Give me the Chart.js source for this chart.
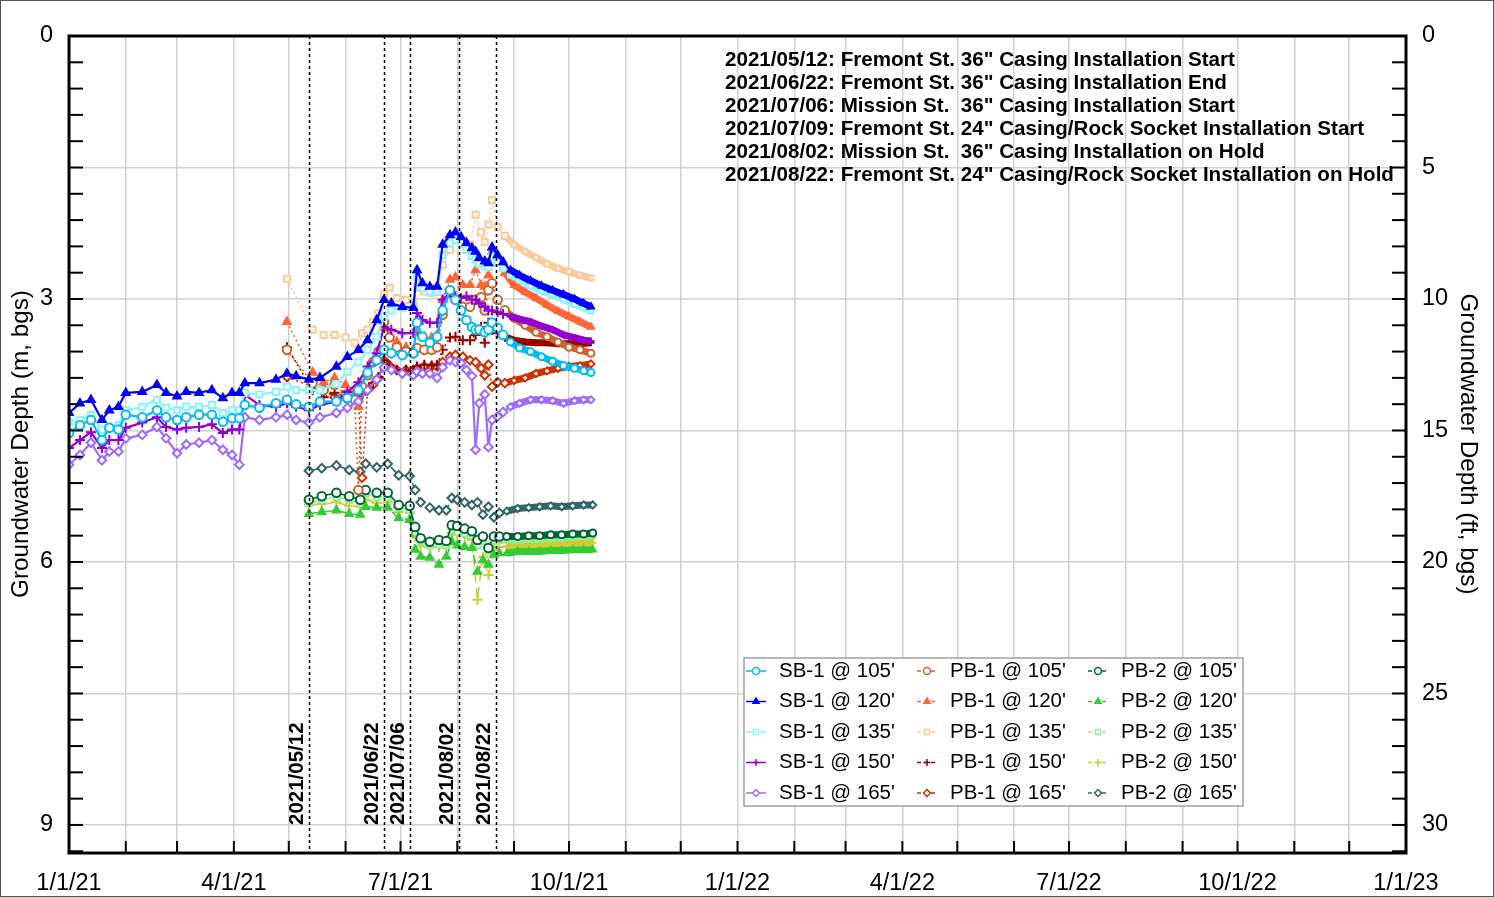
<!DOCTYPE html>
<html>
<head>
<meta charset="utf-8">
<script src="https://cdn.jsdelivr.net/npm/chart.js@4.4.1/dist/chart.umd.min.js"></script>
<style>
  html, body { margin: 0; padding: 0; background: #fff; }
  #wrap { width: 1494px; height: 897px; }
</style>
</head>
<body>
<div id="wrap"><canvas id="gw" width="1494" height="897"></canvas></div>
<script>
// sample dates for each well group
const sbDates = ['2021-01-01','2021-01-07','2021-01-13','2021-01-19','2021-01-23','2021-01-28','2021-02-01','2021-02-10','2021-02-18','2021-02-23',
  '2021-03-01','2021-03-06','2021-03-13','2021-03-20','2021-03-26','2021-03-31','2021-04-04','2021-04-07','2021-04-15','2021-04-24',
  '2021-04-30','2021-05-05','2021-05-12','2021-05-18','2021-05-27','2021-06-02','2021-06-08','2021-06-13','2021-06-18','2021-06-22',
  '2021-06-26','2021-07-02','2021-07-08','2021-07-10','2021-07-13','2021-07-17','2021-07-21','2021-07-24','2021-07-28','2021-07-31',
  '2021-08-03','2021-08-06','2021-08-09','2021-08-11','2021-08-13','2021-08-16','2021-08-18','2021-08-20','2021-08-23','2021-08-26',
  '2021-08-30','2021-09-04','2021-09-10','2021-09-16','2021-09-22','2021-09-28','2021-10-04','2021-10-09','2021-10-13'];
const pb1Dates = ['2021-04-30','2021-05-14','2021-05-20','2021-05-26','2021-06-01','2021-06-06','2021-06-08','2021-06-10','2021-06-13','2021-06-16',
  '2021-06-19','2021-06-22','2021-06-25','2021-06-29','2021-07-04','2021-07-08','2021-07-10','2021-07-14','2021-07-18','2021-07-21',
  '2021-07-24','2021-07-28','2021-07-31','2021-08-04','2021-08-08','2021-08-11','2021-08-14','2021-08-16','2021-08-18','2021-08-20',
  '2021-08-23','2021-08-27','2021-09-01','2021-09-07','2021-09-13','2021-09-19','2021-09-25','2021-10-01','2021-10-07','2021-10-13'];
const pb2Dates = ['2021-05-12','2021-05-19','2021-05-27','2021-06-03','2021-06-09','2021-06-12','2021-06-18','2021-06-24','2021-06-30','2021-07-06',
  '2021-07-09','2021-07-12','2021-07-17','2021-07-22','2021-07-26','2021-07-29','2021-08-01','2021-08-05','2021-08-09','2021-08-12',
  '2021-08-15','2021-08-18','2021-08-21','2021-08-24','2021-08-28','2021-09-03','2021-09-09','2021-09-15','2021-09-21','2021-09-27',
  '2021-10-03','2021-10-09','2021-10-14'];

// groundwater depth, m bgs
const sb105 = [4.53,4.44,4.38,4.61,4.47,4.49,4.32,4.35,4.27,4.35, 4.38,4.35,4.32,4.32,4.40,4.36,4.36,4.21,4.24,4.19,
  4.15,4.20,4.23,4.17,4.17,4.13,4.04,3.84,3.70,3.58, 3.62,3.64,3.62,3.27,3.43,3.50,3.43,3.13,2.90,3.01,
  3.13,3.24,3.32,3.35,3.35,3.38,3.35,3.27,3.33,3.41, 3.49,3.56,3.60,3.66,3.71,3.76,3.79,3.82,3.84];
const sb120 = [4.30,4.19,4.15,4.38,4.27,4.23,4.07,4.06,3.98,4.07, 4.11,4.06,4.07,4.04,4.13,4.07,4.07,3.96,3.96,3.92,
  3.85,3.88,3.92,3.90,3.77,3.66,3.58,3.47,3.24,3.01, 3.05,3.09,3.10,2.67,2.82,2.86,2.86,2.38,2.27,2.24,
  2.29,2.36,2.42,2.46,2.53,2.57,2.59,2.41,2.50,2.58, 2.67,2.73,2.79,2.85,2.90,2.95,3.00,3.05,3.09];
const sb135 = [4.40,4.38,4.32,4.49,4.47,4.44,4.27,4.23,4.15,4.24, 4.27,4.23,4.23,4.21,4.30,4.27,4.27,4.07,4.09,4.06,
  4.00,4.04,4.04,4.04,3.97,3.83,3.72,3.58,3.43,3.20, 3.13,3.10,3.08,2.75,2.87,2.92,2.92,2.50,2.36,2.33,
  2.36,2.44,2.51,2.55,2.60,2.63,2.64,2.52,2.58,2.65, 2.73,2.78,2.85,2.91,2.95,3.01,3.06,3.10,3.14];
const sb150 = [4.70,4.61,4.52,4.70,4.61,4.61,4.47,4.41,4.35,4.46, 4.49,4.47,4.46,4.43,4.53,4.49,4.49,4.09,4.21,4.23,
  4.19,4.23,4.27,4.21,4.17,4.06,3.95,3.77,3.62,3.32, 3.35,3.39,3.39,3.16,3.24,3.27,3.27,3.01,2.93,2.97,
  2.99,2.97,3.01,3.01,3.05,3.09,3.13,3.13,3.15,3.17, 3.20,3.23,3.26,3.31,3.35,3.41,3.44,3.47,3.48];
const sb165 = [4.89,4.78,4.64,4.84,4.74,4.74,4.59,4.55,4.46,4.59, 4.76,4.66,4.64,4.61,4.72,4.78,4.89,4.35,4.38,4.35,
  4.32,4.38,4.41,4.35,4.30,4.24,4.17,4.04,3.92,3.78, 3.81,3.85,3.87,3.83,3.85,3.85,3.90,3.78,3.70,3.72,
  3.73,3.81,3.88,4.72,4.19,4.09,4.69,4.38,4.34,4.29, 4.23,4.19,4.15,4.15,4.16,4.19,4.16,4.15,4.15];

const pb1_105 = [3.58,3.96,4.04,3.98,4.09,4.15,5.18,4.00,3.87,3.72, 3.60,3.26,3.44,3.55,3.60,3.62,3.56,3.58,3.58,3.55,
  3.18,2.90,3.01,3.09,3.09,3.01,2.98,3.13,2.90,2.82, 3.01,3.13,3.22,3.30,3.38,3.43,3.49,3.55,3.58,3.62];
const pb1_120 = [3.26,3.84,3.95,3.90,3.98,4.04,4.23,3.98,3.81,3.70, 3.58,3.33,3.41,3.49,3.55,3.58,3.39,3.43,3.44,3.41,
  3.01,2.78,2.75,2.84,2.84,2.67,2.84,2.86,2.73,2.46, 2.59,2.70,2.84,2.92,2.99,3.07,3.14,3.20,3.26,3.32];
const pb1_135 = [2.77,3.35,3.41,3.41,3.44,3.50,3.58,3.39,3.35,3.26, 3.16,2.95,2.87,2.99,3.01,3.05,2.87,2.91,2.93,2.87,
  2.61,2.44,2.33,2.37,2.38,2.04,2.24,2.35,2.15,1.87, 2.18,2.28,2.38,2.46,2.53,2.60,2.65,2.69,2.73,2.76];
const pb1_150 = [3.55,4.04,4.12,4.07,4.12,4.13,4.12,4.09,4.04,3.96, 3.89,3.70,3.76,3.81,3.81,3.82,3.77,3.75,3.76,3.75,
  3.58,3.44,3.43,3.47,3.47,3.41,3.32,3.50,3.27,3.35, 3.39,3.43,3.47,3.49,3.50,3.50,3.51,3.51,3.51,3.50];
const pb1_165 = [3.89,4.00,4.04,4.12,4.13,4.13,4.13,5.04,4.04,3.98, 3.90,3.70,3.76,3.81,3.81,3.81,3.79,3.77,3.77,3.77,
  3.72,3.66,3.64,3.66,3.70,3.72,3.79,3.87,3.75,4.00, 3.95,3.96,3.93,3.90,3.85,3.82,3.79,3.77,3.76,3.74];

const pb2_105 = [5.29,5.25,5.21,5.25,5.29,5.18,5.21,5.21,5.35,5.36, 5.60,5.73,5.77,5.75,5.76,5.58,5.59,5.62,5.65,5.75,
  5.71,5.84,5.71,5.71,5.71,5.71,5.70,5.70,5.69,5.69, 5.68,5.68,5.67];
const pb2_120 = [5.45,5.43,5.41,5.45,5.46,5.37,5.38,5.38,5.50,5.52, 5.86,5.94,5.95,6.03,5.94,5.77,5.81,5.83,5.84,6.11,
  5.98,6.03,5.92,5.90,5.90,5.88,5.88,5.88,5.87,5.87, 5.86,5.86,5.86];
const pb2_135 = [5.33,5.29,5.26,5.29,5.33,5.22,5.26,5.26,5.38,5.41, 5.66,5.77,5.81,5.80,5.81,5.63,5.66,5.68,5.70,5.81,
  5.76,5.88,5.76,5.75,5.75,5.75,5.74,5.74,5.73,5.73, 5.71,5.71,5.70];
const pb2_150 = [5.35,5.34,5.32,5.36,5.37,5.29,5.33,5.32,5.43,5.44, 5.71,5.82,5.83,5.83,5.83,5.67,5.69,5.71,5.75,6.43,
  5.94,6.15,5.86,5.83,5.82,5.82,5.81,5.81,5.79,5.79, 5.78,5.78,5.78];
const pb2_165 = [4.96,4.93,4.90,4.95,4.97,4.88,4.92,4.88,5.01,5.02, 5.18,5.32,5.38,5.41,5.41,5.27,5.29,5.32,5.35,5.32,
  5.46,5.37,5.49,5.44,5.42,5.39,5.38,5.37,5.36,5.37, 5.36,5.35,5.35];

// axes and annotations
const xTickDates = ['2021-01-01','2021-04-01','2021-07-01','2021-10-01','2022-01-01','2022-04-01','2022-07-01','2022-10-01','2023-01-01'];
const xTickLabels = ['1/1/21','4/1/21','7/1/21','10/1/21','1/1/22','4/1/22','7/1/22','10/1/22','1/1/23'];
const leftLabels = [0, 3, 6, 9];
const rightLabels = [0, 5, 10, 15, 20, 25, 30];
const eventDates = ['2021-05-12','2021-06-22','2021-07-06','2021-08-02','2021-08-22'];
const eventLabels = ['2021/05/12','2021/06/22','2021/07/06','2021/08/02','2021/08/22'];
const notes = [
  '2021/05/12: Fremont St. 36" Casing Installation Start',
  '2021/06/22: Fremont St. 36" Casing Installation End',
  '2021/07/06: Mission St.  36" Casing Installation Start',
  '2021/07/09: Fremont St. 24" Casing/Rock Socket Installation Start',
  '2021/08/02: Mission St.  36" Casing Installation on Hold',
  '2021/08/22: Fremont St. 24" Casing/Rock Socket Installation on Hold'
];

const FONT = '"Liberation Sans", Arial, sans-serif';
const day0 = Date.UTC(2021, 0, 1);
function toDay(s) {
    const [y, m, d] = s.split('-').map(Number);
    return (Date.UTC(y, m - 1, d) - day0) / 86400000;
}
// logger data gets dense from here on, drawn as a heavy band
const denseFrom = toDay('2021-08-27');

// month starts Jan 2021 .. Jan 2023 for grid and ticks
const monthTicks = [];
for (let k = 0; k <= 24; k++) {
    monthTicks.push((Date.UTC(2021, k, 1) - day0) / 86400000);
}
const xLabelByDay = {};
xTickDates.forEach((d, i) => { xLabelByDay[toDay(d)] = xTickLabels[i]; });

function series(label, dates, vals, color, style, kind) {
    const hollow = style === 'circle' || style === 'rect' || style === 'rectRot';
    const baseR = style === 'cross' ? 5 : 4.3;
    return {
        label: label,
        data: dates.map((d, i) => ({ x: toDay(d), y: vals[i] })),
        borderColor: color,
        backgroundColor: color,
        borderWidth: kind === 'sb' ? 2.2 : 1.6,
        borderDash: kind === 'pb1' ? [2, 3] : kind === 'pb2' ? [9, 6] : [],
        borderJoinStyle: 'round',
        pointStyle: style,
        pointRadius: c => c.raw && c.raw.x > denseFrom ? 3.5 : baseR,
        pointBorderWidth: 2,
        pointBackgroundColor: hollow ? '#fff' : color,
        pointBorderColor: color,
        segment: {
            borderDash: c => c.p0.parsed.x >= denseFrom ? [] : undefined,
            borderWidth: c => c.p0.parsed.x >= denseFrom ? 7 : undefined
        },
        tension: 0,
        kind: kind
    };
}

const datasets = [
    series("SB-1 @ 105'", sbDates, sb105, '#00bcf2', 'circle', 'sb'),
    series("SB-1 @ 120'", sbDates, sb120, '#0000ff', 'triangle', 'sb'),
    series("SB-1 @ 135'", sbDates, sb135, '#88f4ff', 'rect', 'sb'),
    series("SB-1 @ 150'", sbDates, sb150, '#9400d3', 'cross', 'sb'),
    series("SB-1 @ 165'", sbDates, sb165, '#9d6bff', 'rectRot', 'sb'),
    series("PB-1 @ 105'", pb1Dates, pb1_105, '#c8642e', 'circle', 'pb1'),
    series("PB-1 @ 120'", pb1Dates, pb1_120, '#ff6633', 'triangle', 'pb1'),
    series("PB-1 @ 135'", pb1Dates, pb1_135, '#ffc896', 'rect', 'pb1'),
    series("PB-1 @ 150'", pb1Dates, pb1_150, '#990000', 'cross', 'pb1'),
    series("PB-1 @ 165'", pb1Dates, pb1_165, '#cc3300', 'rectRot', 'pb1'),
    series("PB-2 @ 105'", pb2Dates, pb2_105, '#006633', 'circle', 'pb2'),
    series("PB-2 @ 120'", pb2Dates, pb2_120, '#33cc33', 'triangle', 'pb2'),
    series("PB-2 @ 135'", pb2Dates, pb2_135, '#90ee90', 'rect', 'pb2'),
    series("PB-2 @ 150'", pb2Dates, pb2_150, '#cccc33', 'cross', 'pb2'),
    series("PB-2 @ 165'", pb2Dates, pb2_165, '#336666', 'rectRot', 'pb2')
];

function line(ctx, x1, y1, x2, y2) {
    ctx.beginPath();
    ctx.moveTo(x1, y1);
    ctx.lineTo(x2, y2);
    ctx.stroke();
}

// frame, inward ticks, event lines, notes, legend, axis titles
const overlay = {
    id: 'overlay',
    afterDraw(chart) {
        const { ctx, chartArea: a, scales } = chart;
        ctx.save();
        ctx.strokeStyle = '#000';
        ctx.fillStyle = '#000';

        ctx.lineWidth = 1.5;
        ctx.setLineDash([3, 3]);
        eventDates.forEach(d => {
            const px = Math.round(scales.x.getPixelForValue(toDay(d))) + 0.5;
            line(ctx, px, a.top, px, a.bottom);
        });
        ctx.setLineDash([]);

        ctx.lineWidth = 2;
        scales.y.ticks.forEach(t => {
            const py = scales.y.getPixelForValue(t.value);
            line(ctx, a.left, py, a.left + 14, py);
        });
        scales.y2.ticks.forEach(t => {
            const py = scales.y2.getPixelForValue(t.value);
            line(ctx, a.right - 14, py, a.right, py);
        });
        scales.x.ticks.forEach(t => {
            const px = scales.x.getPixelForValue(t.value);
            line(ctx, px, a.bottom - 12, px, a.bottom);
        });
        ctx.lineWidth = 3;
        ctx.strokeRect(a.left, a.top, a.right - a.left, a.bottom - a.top);

        // rotated event dates
        ctx.font = 'bold 20.5px ' + FONT;
        ctx.textAlign = 'left';
        ctx.textBaseline = 'middle';
        eventDates.forEach((d, i) => {
            const px = scales.x.getPixelForValue(toDay(d));
            ctx.save();
            ctx.translate(px - 11.5, 825);
            ctx.rotate(-Math.PI / 2);
            ctx.fillText(eventLabels[i], 0, 0);
            ctx.restore();
        });

        ctx.font = 'bold 20.6px ' + FONT;
        notes.forEach((n, i) => ctx.fillText(n, 725, 60 + i * 23));

        // legend
        ctx.fillStyle = '#fff';
        ctx.fillRect(744, 658, 499, 148);
        ctx.strokeStyle = '#a0a0a0';
        ctx.lineWidth = 1.5;
        ctx.strokeRect(744, 658, 499, 148);
        ctx.font = '20.5px ' + FONT;
        chart.data.datasets.forEach((ds, i) => {
            const col = Math.floor(i / 5), row = i % 5;
            const sx = 756 + col * 171, ty = 671 + row * 30.5;
            ctx.strokeStyle = ds.borderColor;
            ctx.lineWidth = 1.5;
            ctx.setLineDash(ds.kind === 'sb' ? [] : [4, 3]);
            line(ctx, sx - 10, ty, sx + 10, ty);
            ctx.setLineDash([]);
            ctx.fillStyle = ds.pointBackgroundColor;
            Chart.helpers.drawPoint(ctx, { pointStyle: ds.pointStyle, radius: 3.5, rotation: 0, borderWidth: 1.5 }, sx, ty);
            ctx.fillStyle = '#000';
            ctx.fillText(ds.label, sx + 23, ty);
        });

        // axis titles
        ctx.font = '24.3px ' + FONT;
        ctx.textAlign = 'center';
        ctx.save();
        ctx.translate(21, 444);
        ctx.rotate(-Math.PI / 2);
        ctx.fillText('Groundwater Depth (m, bgs)', 0, 0);
        ctx.restore();
        ctx.save();
        ctx.translate(1468, 444);
        ctx.rotate(Math.PI / 2);
        ctx.fillText('Groundwater Depth (ft, bgs)', 0, 0);
        ctx.restore();

        ctx.strokeStyle = '#555';
        ctx.lineWidth = 1;
        ctx.strokeRect(0.5, 0.5, 1493, 896);
        ctx.restore();
    }
};

const isMult = (v, step) => Math.abs(v / step - Math.round(v / step)) < 1e-6;
const yMax = 9.32;

new Chart(document.getElementById('gw'), {
    type: 'line',
    data: { datasets: datasets },
    options: {
        responsive: false,
        animation: false,
        devicePixelRatio: 1,
        layout: { padding: { top: 36, left: 0, right: 0, bottom: 0 } },
        plugins: { legend: { display: false }, tooltip: { enabled: false } },
        scales: {
            x: {
                type: 'linear', position: 'bottom', min: 0, max: 730,
                afterBuildTicks: s => { s.ticks = monthTicks.map(v => ({ value: v })); },
                afterFit: s => { s.height = 44; },
                ticks: {
                    autoSkip: false, maxRotation: 0, padding: 16, color: '#000',
                    font: { family: FONT, size: 23.5 },
                    callback: v => xLabelByDay[v] || ''
                },
                grid: { color: '#d0d0d0', lineWidth: 1.5, drawTicks: false },
                border: { display: false }
            },
            y: {
                type: 'linear', position: 'left', reverse: true, min: 0, max: yMax,
                afterBuildTicks: s => {
                    s.ticks = [];
                    for (let k = 0; k * 0.3 <= yMax; k++) s.ticks.push({ value: k * 0.3 });
                },
                afterFit: s => { s.width = 69; },
                ticks: {
                    autoSkip: false, padding: 16, color: '#000',
                    font: { family: FONT, size: 23.5 },
                    callback: v => leftLabels.find(l => Math.abs(l - v) < 1e-6) !== undefined ? String(Math.round(v)) : ''
                },
                grid: {
                    drawTicks: false, lineWidth: 1.5,
                    color: c => isMult(c.tick.value, 1.5) ? '#d0d0d0' : 'rgba(0,0,0,0)'
                },
                border: { display: false }
            },
            y2: {
                type: 'linear', position: 'right', reverse: true, min: 0, max: yMax * 10 / 3,
                afterBuildTicks: s => {
                    s.ticks = [];
                    for (let k = 0; k <= yMax * 10 / 3; k++) s.ticks.push({ value: k });
                },
                afterFit: s => { s.width = 88; },
                ticks: {
                    autoSkip: false, padding: 16, color: '#000',
                    font: { family: FONT, size: 23.5 },
                    callback: v => rightLabels.includes(v) ? String(v) : ''
                },
                grid: { display: false, drawTicks: false },
                border: { display: false }
            }
        }
    },
    plugins: [overlay]
});
</script>
</body>
</html>
